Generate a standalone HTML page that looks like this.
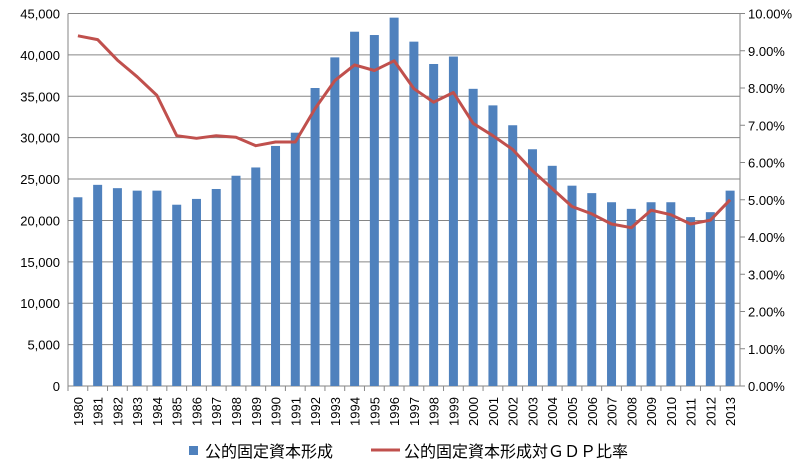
<!DOCTYPE html><html><head><meta charset="utf-8"><style>body{margin:0;background:#fff}svg{display:block;font-family:"Liberation Sans","Noto Sans CJK JP",sans-serif;font-size:13px;fill:#000}</style></head><body>
<svg id="s" width="803" height="464" xmlns="http://www.w3.org/2000/svg"></svg>
<script>
const s=document.getElementById('s');let h='';
const L=68,R=740,T=13.5,B=386,H=B-T;
const bars=[22800,24300,23900,23600,23600,21900,22600,23800,25400,26400,29000,30600,36000,39700,42800,42400,44500,41600,38900,39800,35900,33900,31500,28600,26600,24200,23300,22200,21400,22200,22200,20400,21000,23600];
const pct=[9.4,9.3,8.75,8.3,7.8,6.72,6.65,6.72,6.68,6.45,6.55,6.55,7.45,8.2,8.62,8.47,8.73,7.98,7.62,7.88,7.05,6.72,6.35,5.78,5.3,4.82,4.62,4.35,4.25,4.72,4.6,4.35,4.45,5.0];
for(let i=0;i<=9;i++){const y=B-H*i/9;h+=`<line x1="${L}" x2="${R}" y1="${y}" y2="${y}" stroke="#868686"/>`;
h+=`<text x="${L-8}" y="${y+5}" text-anchor="end">${(i*5000).toLocaleString('en-US')}</text>`;}
for(let i=0;i<=10;i++){const y=B-H*i/10;h+=`<line x1="${R}" x2="${R+5}" y1="${y}" y2="${y}" stroke="#868686"/><text x="${R+8}" y="${y+5}">${(i).toFixed(2)}%</text>`;}
h+=`<line x1="${L}" x2="${L}" y1="${T}" y2="${B}" stroke="#868686"/><line x1="${R}" x2="${R}" y1="${T}" y2="${B}" stroke="#868686"/>`;
const w=(R-L)/34;let pts=[];
for(let i=0;i<34;i++){const cx=L+w*(i+.5);const bh=bars[i]/45000*H;
h+=`<rect x="${cx-4.5}" y="${B-bh}" width="9" height="${bh}" fill="#4f81bd"/>`;
h+=`<line x1="${L+w*i}" x2="${L+w*i}" y1="${B}" y2="${B+5}" stroke="#868686"/>`;
h+=`<text transform="translate(${cx+5},${B+40}) rotate(-90)">${1980+i}</text>`;
pts.push(cx.toFixed(1)+','+(B-pct[i]/10*H).toFixed(1));}
h+=`<polyline points="${pts.join(' ')}" fill="none" stroke="#c0504d" stroke-width="3" stroke-linejoin="round"/>`;
h+=`<rect x="189" y="446" width="9" height="9" fill="#4f81bd"/><text x="205" y="457" style="font-size:16px">公的固定資本形成</text>`;
h+=`<line x1="371" x2="400" y1="450" y2="450" stroke="#c0504d" stroke-width="3"/><text x="404" y="457" style="font-size:16px">公的固定資本形成対ＧＤＰ比率</text>`;
s.innerHTML=h;
</script></body></html>
